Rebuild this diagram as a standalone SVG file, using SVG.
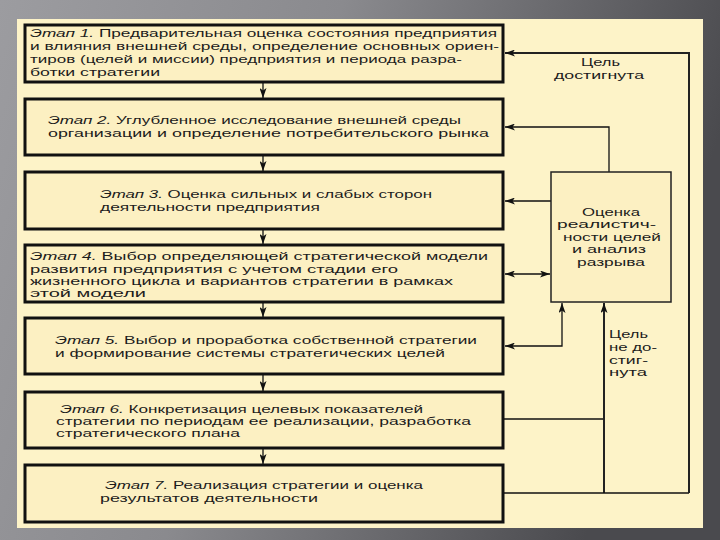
<svg xmlns="http://www.w3.org/2000/svg" width="720" height="540" viewBox="0 0 720 540">
<defs>
<linearGradient id="bg" x1="0" y1="0" x2="1" y2="0.25">
<stop offset="0" stop-color="#9c9ca0"/>
<stop offset="0.45" stop-color="#8a8a8e"/>
<stop offset="1" stop-color="#4a4a4e"/>
</linearGradient>
<marker id="ah" viewBox="0 0 10 7" refX="10" refY="3.5" markerWidth="10" markerHeight="7" markerUnits="userSpaceOnUse" orient="auto-start-reverse">
<path d="M0,0 L10,3.5 L0,7 L2.5,3.5 Z" fill="#111"/>
</marker>
<style>
.stage{fill:#fcf0c2;stroke:#111;stroke-width:3}
.eval{fill:#fcf0c2;stroke:#222;stroke-width:1.5}
.t{font-family:"Liberation Sans",Arial,sans-serif;font-size:11px;fill:#1c1c1c}
.i{font-style:italic}
.c{fill:none;stroke:#111;stroke-width:1.3}
.ct{fill:none;stroke:#222;stroke-width:2}
</style>
</defs>
<rect width="720" height="540" fill="url(#bg)"/>
<rect x="17" y="19" width="686" height="509" fill="#fdf3c8"/>

<g id="connectors">
<line class="c" x1="263" y1="83" x2="263" y2="98" marker-end="url(#ah)"/>
<line class="c" x1="263" y1="156" x2="263" y2="171" marker-end="url(#ah)"/>
<line class="c" x1="263" y1="230" x2="263" y2="244" marker-end="url(#ah)"/>
<line class="c" x1="263" y1="303" x2="263" y2="317" marker-end="url(#ah)"/>
<line class="c" x1="263" y1="375" x2="263" y2="391" marker-end="url(#ah)"/>
<line class="c" x1="263" y1="449" x2="263" y2="464" marker-end="url(#ah)"/>
<polyline class="c" points="609,172 609,127 505,127" marker-end="url(#ah)"/>
<line class="c" x1="551" y1="201" x2="505" y2="201" marker-end="url(#ah)"/>
<line class="c" x1="505" y1="274" x2="550" y2="274" marker-start="url(#ah)" marker-end="url(#ah)"/>
<polyline class="c" points="505,346 562,346 562,303" marker-start="url(#ah)" marker-end="url(#ah)"/>
<line class="c" x1="503" y1="419" x2="604" y2="419"/>
<line class="ct" x1="604" y1="493" x2="604" y2="303" marker-end="url(#ah)"/>
<line class="c" x1="503" y1="493" x2="689" y2="493"/>
<polyline class="ct" points="689,493 689,53 505,53" marker-end="url(#ah)"/>
<text class="t" x="581" y="66" textLength="39" lengthAdjust="spacingAndGlyphs">Цель</text>
<text class="t" x="554" y="79" textLength="90" lengthAdjust="spacingAndGlyphs">достигнута</text>
<text class="t" x="609" y="338" textLength="39" lengthAdjust="spacingAndGlyphs">Цель</text>
<text class="t" x="609" y="351" textLength="48" lengthAdjust="spacingAndGlyphs">не до-</text>
<text class="t" x="609" y="364" textLength="39" lengthAdjust="spacingAndGlyphs">стиг-</text>
<text class="t" x="609" y="376" textLength="38" lengthAdjust="spacingAndGlyphs">нута</text>
</g>

<g id="stage1">
<rect class="stage" x="25" y="25" width="478" height="57"/>
<text class="t" x="30" y="37" textLength="467" lengthAdjust="spacingAndGlyphs"><tspan class="i">Этап 1.</tspan> Предварительная оценка состояния предприятия</text>
<text class="t" x="30" y="50" textLength="469" lengthAdjust="spacingAndGlyphs">и влияния внешней среды, определение основных ориен-</text>
<text class="t" x="30" y="63" textLength="432" lengthAdjust="spacingAndGlyphs">тиров (целей и миссии) предприятия и периода разра-</text>
<text class="t" x="30" y="76" textLength="130" lengthAdjust="spacingAndGlyphs">ботки стратегии</text>
</g>

<g id="stage2">
<rect class="stage" x="25" y="99" width="478" height="56"/>
<text class="t" x="48" y="124" textLength="413" lengthAdjust="spacingAndGlyphs"><tspan class="i">Этап 2.</tspan> Углубленное исследование внешней среды</text>
<text class="t" x="48" y="137" textLength="441" lengthAdjust="spacingAndGlyphs">организации и определение потребительского рынка</text>
</g>

<g id="stage3">
<rect class="stage" x="25" y="172" width="478" height="57"/>
<text class="t" x="100" y="198" textLength="332" lengthAdjust="spacingAndGlyphs"><tspan class="i">Этап 3.</tspan> Оценка сильных и слабых сторон</text>
<text class="t" x="100" y="211" textLength="220" lengthAdjust="spacingAndGlyphs">деятельности предприятия</text>
</g>

<g id="stage4">
<rect class="stage" x="25" y="245" width="478" height="57"/>
<text class="t" x="30" y="260" textLength="458" lengthAdjust="spacingAndGlyphs"><tspan class="i">Этап 4.</tspan> Выбор определяющей стратегической модели</text>
<text class="t" x="30" y="273" textLength="368" lengthAdjust="spacingAndGlyphs">развития предприятия с учетом стадии его</text>
<text class="t" x="30" y="285" textLength="423" lengthAdjust="spacingAndGlyphs">жизненного цикла и вариантов стратегии в рамках</text>
<text class="t" x="30" y="297" textLength="116" lengthAdjust="spacingAndGlyphs">этой модели</text>
</g>

<g id="stage5">
<rect class="stage" x="25" y="318" width="478" height="56"/>
<text class="t" x="55" y="344" textLength="422" lengthAdjust="spacingAndGlyphs"><tspan class="i">Этап 5.</tspan> Выбор и проработка собственной стратегии</text>
<text class="t" x="55" y="357" textLength="390" lengthAdjust="spacingAndGlyphs">и формирование системы стратегических целей</text>
</g>

<g id="stage6">
<rect class="stage" x="25" y="392" width="478" height="56"/>
<text class="t" x="60" y="413" textLength="363" lengthAdjust="spacingAndGlyphs"><tspan class="i">Этап 6.</tspan> Конкретизация целевых показателей</text>
<text class="t" x="56" y="425" textLength="415" lengthAdjust="spacingAndGlyphs">стратегии по периодам ее реализации, разработка</text>
<text class="t" x="56" y="437" textLength="184" lengthAdjust="spacingAndGlyphs">стратегического плана</text>
</g>

<g id="stage7">
<rect class="stage" x="25" y="465" width="478" height="57"/>
<text class="t" x="105" y="489" textLength="318" lengthAdjust="spacingAndGlyphs"><tspan class="i">Этап 7.</tspan> Реализация стратегии и оценка</text>
<text class="t" x="100" y="502" textLength="218" lengthAdjust="spacingAndGlyphs">результатов деятельности</text>
</g>

<g id="evaluation">
<rect class="eval" x="551" y="172" width="120" height="130"/>
<text class="t" x="582" y="216" textLength="58" lengthAdjust="spacingAndGlyphs">Оценка</text>
<text class="t" x="557" y="228" textLength="99" lengthAdjust="spacingAndGlyphs">реалистич-</text>
<text class="t" x="563" y="241" textLength="98" lengthAdjust="spacingAndGlyphs">ности целей</text>
<text class="t" x="572" y="253" textLength="74" lengthAdjust="spacingAndGlyphs">и анализ</text>
<text class="t" x="577" y="266" textLength="68" lengthAdjust="spacingAndGlyphs">разрыва</text>
</g>
</svg>
